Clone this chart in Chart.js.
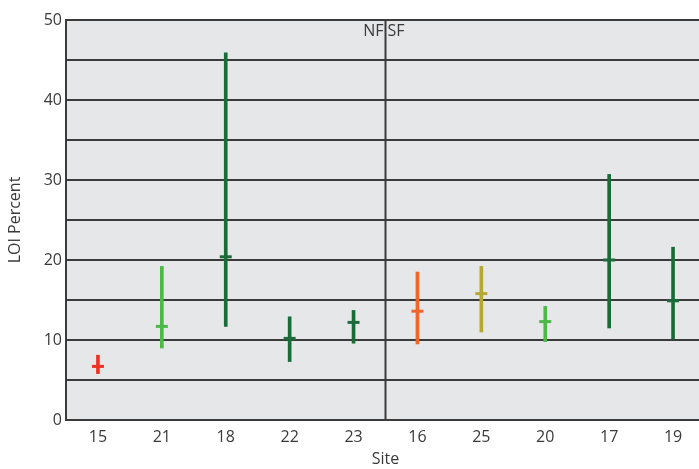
<!DOCTYPE html>
<html><head><meta charset="utf-8">
<script src="https://cdn.jsdelivr.net/npm/chart.js@4"></script>
<style>
html,body{margin:0;padding:0;background:#fff;overflow:hidden;width:699px;height:469px}
#wrap{width:699px;height:469px;overflow:hidden}
canvas{display:block}
</style>
</head><body>
<div id="wrap"><canvas id="c" width="705" height="469"></canvas></div>
<script>
// LOI percent per site: range (low–high) and mean
const sites      = ['15', '21', '18', '22', '23', '16', '25', '20', '17', '19'];
const lowValues  = [5.8, 9.0, 11.7, 7.3, 9.6, 9.5, 11.0, 9.8, 11.5, 10.1];
const highValues = [8.1, 19.2, 45.9, 12.9, 13.7, 18.5, 19.2, 14.2, 30.7, 21.6];
const meanValues = [6.7, 11.7, 20.4, 10.2, 12.2, 13.6, 15.8, 12.3, 20.0, 14.9];
const siteColors = ['#ee3124', '#4cb848', '#1b6b3a', '#1b6b3a', '#1b6b3a',
                    '#f2652d', '#b5a733', '#4cb848', '#1b6b3a', '#1b6b3a'];
const groupLabels = ['NF', 'SF'];
const groupSplit = 5;               // first SF site index
const yTickLabels = [0, 10, 20, 30, 40, 50];

const lineColor = '#3b3b3b';
const textColor = '#3a3a3a';

Chart.defaults.font.family = '"Open Sans", sans-serif';
Chart.defaults.font.size = 16;
Chart.defaults.color = textColor;

const plotBackground = {
  id: 'plotBackground',
  beforeDraw(chart) {
    const {ctx, chartArea: a} = chart;
    ctx.save();
    ctx.fillStyle = '#e6e7e9';
    ctx.fillRect(a.left, a.top, a.right - a.left, a.bottom - a.top);
    ctx.restore();
  }
};

const groupDivider = {
  id: 'groupDivider',
  beforeDatasetsDraw(chart) {
    const {ctx, chartArea: a, scales: {x}} = chart;
    const xs = (x.getPixelForValue(groupSplit - 1) + x.getPixelForValue(groupSplit)) / 2;
    ctx.save();
    ctx.strokeStyle = lineColor;
    ctx.lineWidth = 2;
    ctx.beginPath();
    ctx.moveTo(xs, a.top);
    ctx.lineTo(xs, a.bottom);
    ctx.stroke();
    ctx.fillStyle = textColor;
    ctx.font = '16px "Open Sans", sans-serif';
    ctx.textBaseline = 'middle';
    ctx.textAlign = 'right';
    ctx.fillText(groupLabels[0], xs - 2, a.top + 11);
    ctx.textAlign = 'left';
    ctx.fillText(groupLabels[1], xs + 2, a.top + 11);
    ctx.restore();
  }
};

new Chart(document.getElementById('c'), {
  data: {
    labels: sites,
    datasets: [
      {
        type: 'bar',
        data: sites.map((_, i) => [lowValues[i], highValues[i]]),
        backgroundColor: siteColors,
        borderWidth: 0,
        barThickness: 3,
        grouped: false
      },
      {
        type: 'line',
        data: meanValues,
        showLine: false,
        pointStyle: 'line',
        pointRadius: 6,
        pointHoverRadius: 6,
        pointBorderWidth: 3,
        pointBorderColor: siteColors,
        pointBackgroundColor: siteColors
      }
    ]
  },
  options: {
    responsive: false,
    animation: false,
    devicePixelRatio: 1,
    layout: {autoPadding: false, padding: {top: 20, left: 0, right: 0, bottom: 0}},
    plugins: {legend: {display: false}, tooltip: {enabled: false}},
    scales: {
      x: {
        offset: true,
        grid: {display: false},
        border: {display: false},
        ticks: {padding: 0, maxRotation: 0},
        title: {display: true, text: 'Site', padding: {top: 0, bottom: 0}},
        afterFit(s) { s.height = 49; s.paddingLeft = 0; s.paddingRight = 0; }
      },
      y: {
        min: 0, max: 50,
        grid: {color: lineColor, lineWidth: 2, drawTicks: false},
        border: {display: true, color: lineColor, width: 2},
        ticks: {
          stepSize: 5,
          padding: 4,
          callback: v => yTickLabels.includes(v) ? v : ''
        },
        title: {display: true, text: 'LOI Percent', padding: {top: 6, bottom: 0}},
        afterFit(s) { s.width = 66; s.paddingTop = 0; s.paddingBottom = 0; }
      }
    }
  },
  plugins: [plotBackground, groupDivider]
});
</script>
</body></html>
